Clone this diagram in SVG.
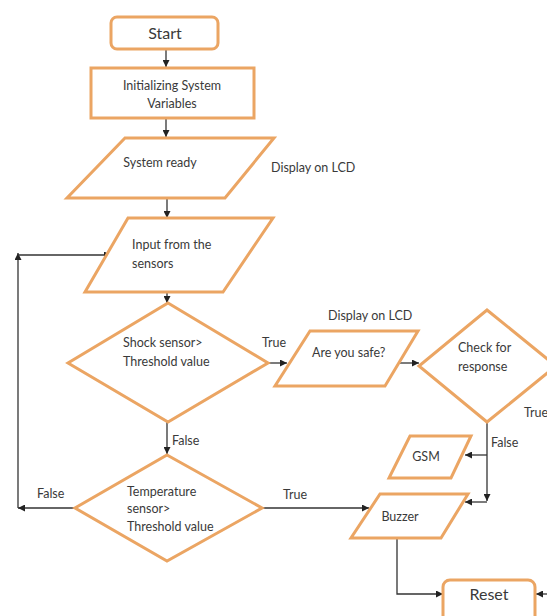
<svg xmlns="http://www.w3.org/2000/svg" width="547" height="616" viewBox="0 0 547 616">
<defs>
<marker id="ah" viewBox="0 0 10 10" refX="10" refY="5" markerWidth="7" markerHeight="7" markerUnits="userSpaceOnUse" orient="auto">
<path d="M0,0 L10,5 L0,10 z" fill="#222"/>
</marker>
<style>
.n{fill:#fff;stroke:#EBA563;stroke-width:3;stroke-linejoin:miter}
.c{fill:none;stroke:#333;stroke-width:1.3}
.t{font-family:Lato,"Open Sans",sans-serif;font-size:12.5px;fill:#3a3a3a}
.big{font-size:16px}
.m{text-anchor:middle}
</style>
</defs>
<rect width="547" height="616" fill="#fff"/>
<g id="connectors">
<path class="c" d="M166,49 V67" marker-end="url(#ah)"/>
<path class="c" d="M166,118 V137" marker-end="url(#ah)"/>
<path class="c" d="M167,198 V218" marker-end="url(#ah)"/>
<path class="c" d="M167,292 V303" marker-end="url(#ah)"/>
<path class="c" d="M268,363 H287" marker-end="url(#ah)"/>
<path class="c" d="M397,363 H419" marker-end="url(#ah)"/>
<path class="c" d="M167,422 V454" marker-end="url(#ah)"/>
<path class="c" d="M487,422 V501" marker-end="url(#ah)"/>
<path class="c" d="M487,455 H465" marker-end="url(#ah)"/>
<path class="c" d="M487,502 H465" marker-end="url(#ah)"/>
<path class="c" d="M75,508 H18" marker-end="url(#ah)"/>
<path class="c" d="M18,508 V253" marker-end="url(#ah)"/>
<path class="c" d="M18,255 H111" marker-end="url(#ah)"/>
<path class="c" d="M262,508 H369" marker-end="url(#ah)"/>
<path class="c" d="M397,538 V594 H443" marker-end="url(#ah)"/>
<path class="c" d="M547,594 H536" marker-end="url(#ah)"/>
</g>
<g id="start">
<rect class="n" x="111" y="17" width="107" height="32" rx="6"/>
<text class="t big m" x="165" y="39">Start</text>
</g>
<g id="init">
<rect class="n" x="91" y="68" width="163" height="50"/>
<text class="t m" x="172" y="90">Initializing System</text>
<text class="t m" x="172" y="108">Variables</text>
</g>
<g id="ready">
<polygon class="n" points="125,138 274,138 225,198 67,198"/>
<text class="t m" x="160" y="167">System  ready</text>
</g>
<text class="t" x="271" y="172">Display on LCD</text>
<g id="input">
<polygon class="n" points="128,218 273,218 223,292 85,292"/>
<text class="t" x="132" y="249">Input from the</text>
<text class="t" x="132" y="268">sensors</text>
</g>
<g id="shock">
<polygon class="n" points="168,303 268,363 168,422 68,363"/>
<text class="t" x="123" y="347">Shock sensor&gt;</text>
<text class="t" x="123" y="366">Threshold value</text>
</g>
<text class="t" x="262" y="347">True</text>
<g id="safe">
<polygon class="n" points="310,331 418,331 385,386 275,386"/>
<text class="t" x="312" y="357">Are you safe?</text>
</g>
<text class="t" x="328" y="320">Display on LCD</text>
<g id="check">
<polygon class="n" points="487,310 556,366 487,422 419,366"/>
<text class="t" x="458" y="352">Check for</text>
<text class="t" x="458" y="371">response</text>
</g>
<text class="t" x="524" y="417">True</text>
<text class="t" x="491" y="447">False</text>
<g id="gsm">
<polygon class="n" points="410,436 471,436 451,478 389,478"/>
<text class="t m" x="426" y="461">GSM</text>
</g>
<g id="temp">
<polygon class="n" points="167,455 262,508 167,561 75,508"/>
<text class="t" x="127" y="496">Temperature</text>
<text class="t" x="127" y="513">sensor&gt;</text>
<text class="t" x="127" y="531">Threshold value</text>
</g>
<text class="t" x="172" y="445">False</text>
<text class="t" x="37" y="498">False</text>
<text class="t" x="283" y="499">True</text>
<g id="buzzer">
<polygon class="n" points="380,494 468,494 441,538 351,538"/>
<text class="t m" x="400" y="521">Buzzer</text>
</g>
<g id="reset">
<rect class="n" x="443" y="580" width="92" height="44" rx="7"/>
<text class="t big m" x="489" y="600">Reset</text>
</g>
</svg>
